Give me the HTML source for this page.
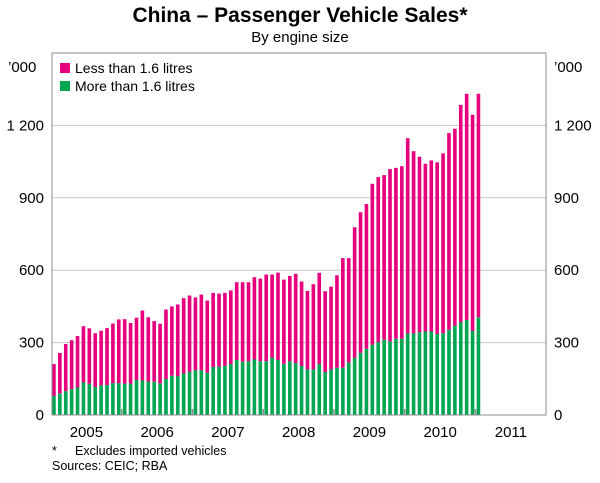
<!DOCTYPE html>
<html><head><meta charset="utf-8"><style>
body{margin:0;background:#fff;font-family:"Liberation Sans",sans-serif}
svg text{font-family:"Liberation Sans",sans-serif;fill:#000}
</style></head><body>
<svg id="chart" width="600" height="478" xmlns="http://www.w3.org/2000/svg">
<text x="300" y="22" text-anchor="middle" font-size="21" font-weight="bold">China – Passenger Vehicle Sales*</text>
<text x="300" y="42" text-anchor="middle" font-size="15">By engine size</text>
<g id="grid"></g>
<g id="bars"></g>
<rect x="52" y="53" width="494" height="362" fill="none" stroke="#8c8c8c" stroke-width="1"/>
<g id="axes"></g>
<text x="8" y="72" font-size="15">’000</text>
<text x="554" y="72" font-size="15">’000</text>
<g>
<rect x="60" y="63" width="10" height="10" fill="#e6007e"/>
<text x="75" y="73" font-size="14">Less than 1.6 litres</text>
<rect x="60" y="81" width="10" height="10" fill="#00a651"/>
<text x="75" y="91" font-size="14">More than 1.6 litres</text>
</g>
<text x="52" y="455" font-size="12.5">*</text>
<text x="75" y="455" font-size="12.5">Excludes imported vehicles</text>
<text x="52" y="470" font-size="12.5">Sources: CEIC; RBA</text>
</svg>
<script>
const years = ["2005","2006","2007","2008","2009","2010","2011"];
const yTicks = [0,300,600,900,1200];
const yTickLabels = ["0","300","600","900","1 200"];
const moreThan16 = [79,90,99,108,114,135,130,116,123,124,132,132,130,130,145,143,139,138,131,149,163,161,172,179,186,186,175,199,200,204,211,228,221,223,230,223,223,237,228,212,223,215,203,189,189,211,178,189,196,196,217,237,258,274,291,302,312,305,316,316,338,338,343,346,346,336,339,353,370,385,394,348,405];
const lessThan16 = [132,167,195,202,213,233,229,223,226,236,247,264,267,251,258,290,266,251,247,288,287,297,312,316,301,313,299,307,303,302,305,322,329,327,341,342,359,345,362,349,353,370,350,325,353,378,335,343,383,454,433,541,582,600,667,684,682,714,708,715,809,755,727,695,709,711,745,815,816,900,937,896,926];

const svgNS="http://www.w3.org/2000/svg";
const y0=415, pxPer=362/1500;
const yS=v=>y0-v*pxPer;
const monthW=70.75/12, x0=51;
const xS=i=>x0+(i+0.5)*monthW;
const grid=document.getElementById('grid'), bars=document.getElementById('bars'), axes=document.getElementById('axes');
function mk(tag,attrs,parent){const e=document.createElementNS(svgNS,tag);for(const k in attrs)e.setAttribute(k,attrs[k]);parent.appendChild(e);return e;}
yTicks.forEach((v,k)=>{
  if(v>0){const l=mk('line',{x1:52,x2:546,y1:yS(v),y2:yS(v),stroke:'#c8c8c8','stroke-width':1},grid);
  
  }
  const t=mk('text',{x:44,y:yS(v)+5,'text-anchor':'end','font-size':15},axes);t.textContent=yTickLabels[k];
  
  
  const t2=mk('text',{x:554,y:yS(v)+5,'font-size':15},axes);t2.textContent=yTickLabels[k];
  
  
});
years.forEach((yr,k)=>{
  const t=mk('text',{x:x0+(k+0.5)*70.75,y:437,'text-anchor':'middle','font-size':15},axes);t.textContent=yr;
  
  
  if(k>0){const tk=mk('line',{x1:x0+k*70.75,x2:x0+k*70.75,y1:409,y2:415,stroke:'#8c8c8c','stroke-width':1.5},axes);
  
  }
});
moreThan16.forEach((m,i)=>{
  const x=xS(i)-1.8;
  const g=mk('rect',{x:x,y:yS(m),width:3.6,height:y0-yS(m),fill:'#00a651'},bars);
  
  
  const l=lessThan16[i];
  const p=mk('rect',{x:x,y:yS(m+l),width:3.6,height:yS(m)-yS(m+l),fill:'#e6007e'},bars);
  
  
});
</script>
</body></html>
